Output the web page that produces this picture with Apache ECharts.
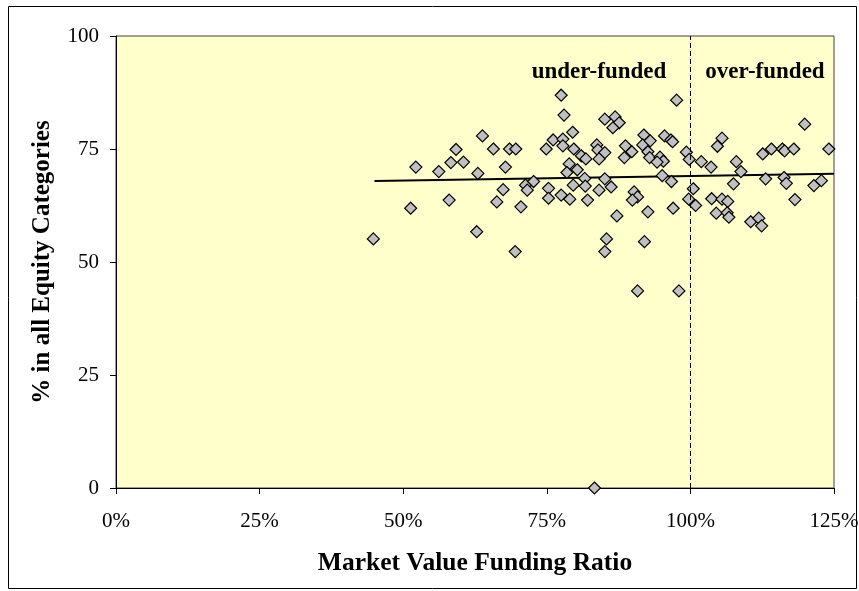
<!DOCTYPE html>
<html>
<head>
<meta charset="utf-8">
<script src="https://cdn.jsdelivr.net/npm/echarts@6/dist/echarts.min.js"></script>
<style>
html,body{margin:0;padding:0;background:#fff;}
#chart{width:859px;height:591px;}
</style>
</head>
<body>
<div id="chart"></div>
<script>
// funding ratio (%) and equity share (%) per plan
var fundingRatio = [63.8,59.2,65.7,68.5,69.6,52.2,58.3,60.5,56.2,63.0,67.8,67.4,71.3,71.6,58.0,66.3,51.3,70.5,44.8,62.8,69.5,
    77.5,97.6,78.0,85.1,86.9,87.6,86.5,79.5,76.1,77.8,77.8,74.9,79.7,83.7,83.9,85.1,84.1,81.0,81.8,88.7,89.8,88.5,
    91.9,91.7,93.0,92.6,92.9,95.5,96.6,96.9,94.7,95.3,94.2,99.3,99.8,101.9,103.6,104.7,78.9,78.5,80.3,81.6,81.7,
    85.1,86.2,84.1,79.6,75.3,72.7,95.1,96.7,90.2,90.8,89.9,100.5,103.7,77.5,79.0,82.1,75.3,99.7,87.2,92.6,97.0,
    100.9,104.5,85.4,85.1,92.0,90.8,98.0,119.9,105.5,112.6,114.1,116.0,116.4,118.0,124.1,108.0,108.8,113.1,116.3,
    116.7,107.5,121.5,122.8,105.5,106.5,118.2,106.4,106.7,110.5,111.9,112.4,83.3];
var equityShare = [77.9,74.9,75.0,75.0,75.0,71.0,72.0,72.1,70.0,69.6,71.0,66.0,67.0,65.9,63.7,63.3,61.9,62.2,55.1,56.7,52.3,
    86.9,85.8,82.5,81.6,82.1,80.8,79.7,78.7,77.0,77.2,75.7,75.0,75.0,75.9,74.8,74.2,72.8,73.5,72.8,75.7,74.4,73.1,
    78.1,75.9,76.8,74.4,73.1,77.9,77.0,76.6,73.2,72.3,72.1,74.3,72.7,72.2,71.0,75.6,71.7,69.8,70.4,68.5,66.8,
    68.4,66.6,65.9,67.0,66.3,67.8,69.1,67.8,65.5,64.4,63.7,66.2,64.0,64.8,63.9,63.7,64.1,63.9,60.2,61.1,61.9,
    62.5,60.8,55.1,52.3,54.5,43.6,43.6,80.5,77.4,73.9,75.0,75.0,74.6,75.0,75.0,72.2,70.0,68.4,68.7,
    67.4,67.3,66.9,68.0,63.9,63.4,63.8,60.9,59.9,58.9,59.7,58.0,0];
var trendX = [45, 125];
var trendY = [67.9, 69.5];
var xTicks = [0, 25, 50, 75, 100, 125];
var yTicks = [0, 25, 50, 75, 100];
var splitAt = 100;

var serif = '"Liberation Serif", "Times New Roman", serif';
var points = fundingRatio.map(function (x, i) { return [x, equityShare[i]]; });
var trend = trendX.map(function (x, i) { return [x, trendY[i]]; });

var chart = echarts.init(document.getElementById('chart'));
var option = {
    animation: false,
    backgroundColor: '#ffffff',
    grid: {
        left: 116, top: 36, right: 25, bottom: 103, outerBoundsMode: 'none', containLabel: false,
        show: true, backgroundColor: '#FFFFCC', borderColor: '#404040', borderWidth: 1
    },
    xAxis: {
        type: 'value', min: xTicks[0], max: xTicks[xTicks.length - 1], interval: 25,
        name: 'Market Value Funding Ratio', nameLocation: 'middle', nameGap: 62,
        nameTextStyle: { fontFamily: serif, fontSize: 25.5, fontWeight: 'bold', color: '#000' },
        axisLine: { onZero: false, lineStyle: { color: '#000', width: 1 } },
        axisTick: { show: true, inside: false, length: 6, lineStyle: { color: '#000' } },
        axisLabel: { fontFamily: serif, fontSize: 21, color: '#000', margin: 23,
            formatter: function (v) { return v + '%'; } },
        splitLine: { show: false }
    },
    yAxis: {
        type: 'value', min: yTicks[0], max: yTicks[yTicks.length - 1], interval: 25,
        name: '% in all Equity Categories', nameLocation: 'middle', nameGap: 61, nameRotate: 90,
        nameTextStyle: { fontFamily: serif, fontSize: 25, fontWeight: 'bold', color: '#000' },
        axisLine: { show: true, lineStyle: { color: '#000', width: 1 } },
        axisTick: { show: true, inside: false, length: 6, lineStyle: { color: '#000' } },
        axisLabel: { fontFamily: serif, fontSize: 21, color: '#000', margin: 17 },
        splitLine: { show: false }
    },
    series: [
        {
            type: 'line', data: trend, symbol: 'none', z: 3,
            lineStyle: { color: '#000', width: 2 },
            markLine: {
                silent: true, symbol: 'none',
                lineStyle: { color: '#000', type: [5, 3], width: 1 },
                label: { show: false },
                data: [{ xAxis: splitAt }]
            }
        },
        {
            type: 'scatter', data: points, symbol: 'diamond', symbolSize: 12, z: 4,
            itemStyle: { color: '#C0C0C0', borderColor: '#000', borderWidth: 1.2, opacity: 1 }
        }
    ],
    graphic: [
        { type: 'rect', shape: { x: 8.5, y: 6.5, width: 848, height: 582 },
          style: { fill: 'none', stroke: '#000', lineWidth: 1 }, silent: true, z: -10 },
        { type: 'text', x: 599, y: 72,
          style: { text: 'under-funded', font: 'bold 23px ' + serif, fill: '#000',
                   textAlign: 'center', textVerticalAlign: 'middle' } },
        { type: 'text', x: 765, y: 72,
          style: { text: 'over-funded', font: 'bold 23px ' + serif, fill: '#000',
                   textAlign: 'center', textVerticalAlign: 'middle' } }
    ]
};
chart.setOption(option);
</script>
</body>
</html>
